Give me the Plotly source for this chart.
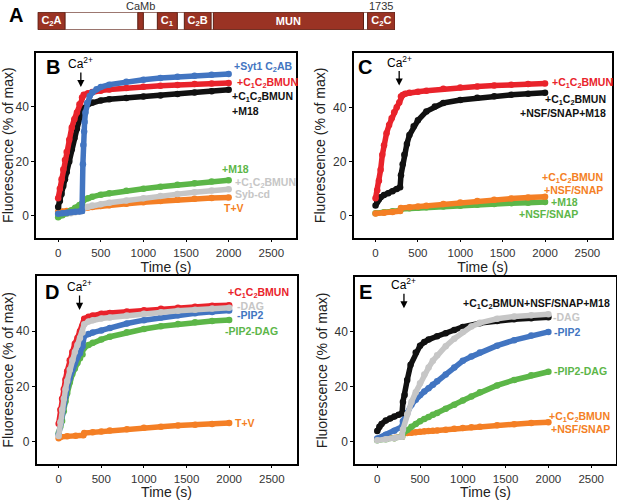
import plotly.graph_objects as go

W, H = 617, 500
FONT = "Liberation Sans, Arial, sans-serif"

BLUE = "#4275c1"
RED = "#e9232b"
BLACK = "#111111"
GREEN = "#5cb648"
GREY = "#c6c6c6"
ORANGE = "#f47f25"
BRICK = "#9a3324"

# ---- panel A: Munc13-1 domain diagram (residues) ----
dom_names = ["C<sub>2</sub>A", "", "C<sub>1</sub>", "C<sub>2</sub>B", "MUN", "C<sub>2</sub>C"]
dom_start = [1, 486, 581, 712, 853, 1602]
dom_end = [133, 513, 678, 842, 1582, 1735]
prot_len = 1735

# ---- panel B ----
tB_red = [0, 20, 40, 60, 80, 100, 130, 160, 190, 220, 250, 280, 300, 350, 400, 500, 600, 800, 1000, 1200, 1400, 1600, 1800, 2000]
B_red = [6.5, 10.0, 13.5, 17.0, 20.5, 23.5, 28.0, 32.5, 35.5, 38.0, 41.0, 43.5, 44.5, 45.0, 45.5, 46.0, 46.4, 47.0, 47.4, 47.8, 48.1, 48.4, 48.6, 48.8]
B_black = [3.3, 5.5, 8.0, 11.0, 13.5, 16.0, 20.0, 24.5, 28.5, 32.0, 35.5, 38.0, 39.5, 41.0, 41.6, 42.4, 42.8, 43.3, 43.8, 44.2, 44.8, 45.3, 45.8, 46.3]
tB_blue = [0, 50, 100, 150, 200, 250, 280, 290, 295, 305, 310, 320, 340, 370, 400, 450, 500, 600, 800, 1000, 1200, 1400, 1600, 1800, 2000]
B_blue = [0.8, 1.0, 1.2, 1.3, 1.5, 1.6, 1.8, 19.0, 26.0, 31.0, 34.5, 38.0, 41.5, 44.0, 45.3, 46.5, 47.3, 48.2, 49.3, 50.0, 50.6, 51.1, 51.5, 51.8, 52.1]
tB_low = [0, 50, 100, 150, 200, 250, 280, 300, 350, 400, 500, 600, 800, 1000, 1200, 1400, 1600, 1800, 2000]
B_green = [-0.5, 0.2, 1.0, 2.0, 3.0, 4.0, 4.6, 5.8, 6.5, 7.0, 7.8, 8.3, 9.2, 10.0, 10.7, 11.4, 12.0, 12.6, 13.1]
B_grey = [0.3, 0.5, 0.8, 1.0, 1.3, 1.6, 1.8, 3.0, 3.4, 3.8, 4.3, 4.8, 5.7, 6.5, 7.3, 8.0, 8.7, 9.3, 9.8]
B_orange = [1.5, 1.6, 1.8, 1.9, 2.0, 2.1, 2.2, 2.9, 3.1, 3.3, 3.6, 3.9, 4.5, 5.0, 5.5, 5.9, 6.3, 6.6, 6.8]

# ---- panel C ----
tC_red = [0, 20, 40, 60, 80, 100, 130, 160, 190, 220, 250, 280, 300, 320, 350, 400, 500, 600, 800, 1000, 1200, 1400, 1600, 1800, 2000]
C_red = [6.5, 9.5, 13.0, 17.0, 22.5, 26.0, 30.5, 33.5, 36.0, 38.2, 40.0, 41.8, 44.0, 44.5, 45.0, 45.4, 45.7, 46.1, 46.8, 47.3, 47.7, 48.0, 48.3, 48.6, 48.8]
tC_black = [0, 20, 40, 60, 100, 150, 200, 250, 290, 300, 320, 340, 370, 400, 450, 500, 600, 700, 800, 1000, 1200, 1400, 1600, 1800, 2000]
C_black = [3.9, 5.2, 6.2, 6.9, 7.7, 8.4, 9.1, 9.9, 10.6, 15.0, 19.0, 22.5, 26.5, 29.8, 33.0, 35.2, 38.5, 40.3, 41.6, 42.7, 43.5, 44.1, 44.6, 45.0, 45.4]
tC_low = [0, 100, 200, 290, 300, 400, 500, 600, 800, 1000, 1200, 1400, 1600, 1800, 2000]
C_orange = [0.9, 1.2, 1.5, 1.8, 2.9, 3.2, 3.5, 3.8, 4.4, 5.0, 5.5, 6.0, 6.4, 6.8, 7.1]
C_green = [1.0, 1.4, 1.7, 2.0, 2.6, 2.8, 3.0, 3.2, 3.5, 3.8, 4.1, 4.4, 4.7, 4.9, 5.1]

# ---- panel D ----
tD = [0, 20, 40, 60, 80, 100, 130, 160, 190, 220, 250, 280, 300, 350, 400, 500, 600, 800, 1000, 1200, 1400, 1600, 1800, 2000]
D_red = [6.5, 11.5, 15.5, 19.0, 22.5, 25.5, 29.5, 32.5, 35.5, 37.5, 40.0, 42.0, 44.5, 45.2, 45.7, 46.3, 46.6, 47.1, 47.6, 48.1, 48.5, 48.9, 49.2, 49.4]
D_grey = [2.0, 7.0, 11.5, 15.5, 19.0, 22.0, 26.0, 29.5, 32.5, 35.0, 37.5, 39.5, 42.5, 43.5, 44.0, 44.6, 45.0, 45.7, 46.3, 46.9, 47.4, 47.8, 48.2, 48.5]
D_blue = [2.5, 6.5, 10.0, 13.5, 16.5, 19.5, 23.0, 26.0, 28.5, 30.5, 32.0, 34.5, 38.3, 39.0, 39.5, 40.3, 41.2, 42.8, 44.0, 45.0, 45.8, 46.5, 47.0, 47.5]
D_green = [3.0, 5.5, 7.5, 11.0, 14.5, 17.5, 21.5, 24.5, 26.5, 28.5, 30.2, 31.6, 34.0, 35.0, 35.8, 37.0, 38.0, 39.6, 40.8, 41.8, 42.6, 43.2, 43.7, 44.1]
tD_low = [0, 20, 100, 200, 290, 300, 400, 500, 600, 800, 1000, 1200, 1400, 1600, 1800, 2000]
D_orange = [1.2, 1.7, 1.9, 2.1, 2.3, 3.1, 3.4, 3.7, 4.0, 4.5, 5.0, 5.4, 5.8, 6.1, 6.4, 6.7]

# ---- panel E ----
tE_black = [0, 25, 50, 100, 150, 200, 250, 290, 300, 320, 350, 390, 450, 500, 550, 600, 700, 800, 900, 1000, 1200, 1400, 1600, 1800, 2000]
E_black = [3.9, 5.5, 6.5, 7.7, 8.5, 9.2, 9.8, 10.4, 14.5, 17.0, 22.5, 28.0, 32.5, 35.0, 36.3, 37.2, 38.4, 39.5, 40.7, 41.8, 43.2, 44.0, 44.6, 45.0, 45.3]
tE = [0, 100, 200, 290, 300, 350, 400, 450, 500, 550, 600, 650, 700, 800, 900, 1000, 1100, 1200, 1400, 1600, 1800, 2000]
E_grey = [0.5, 0.9, 1.3, 1.8, 4.5, 10.0, 14.5, 18.0, 21.3, 24.5, 27.0, 29.5, 31.5, 34.8, 37.5, 40.0, 42.0, 43.3, 44.8, 45.6, 46.1, 46.4]
E_blue = [1.2, 2.5, 4.0, 5.5, 7.5, 10.5, 13.5, 15.3, 17.0, 18.3, 19.5, 20.8, 22.0, 24.5, 27.0, 29.5, 31.0, 32.5, 35.0, 37.0, 38.7, 40.0]
E_green = [0.5, 0.9, 1.3, 1.8, 3.0, 4.3, 5.5, 6.5, 7.5, 8.3, 9.0, 9.8, 10.5, 12.0, 13.5, 15.0, 16.5, 18.0, 20.5, 22.5, 24.2, 25.5]
E_orange = [0.8, 1.1, 1.4, 1.8, 3.0, 3.2, 3.3, 3.5, 3.6, 3.8, 3.9, 4.0, 4.1, 4.4, 4.7, 5.0, 5.3, 5.5, 6.0, 6.4, 6.8, 7.1]


def px(x):
    return x / W


def py(y):
    return 1 - y / H


fig = go.Figure()


def add_curve(t, v, color, ax):
    fig.add_trace(go.Scatter(
        x=t, y=v, mode="lines+markers", xaxis="x" + ax, yaxis="y" + ax,
        line=dict(color=color, width=5.5),
        marker=dict(color=color, size=6.5),
        showlegend=False, hoverinfo="skip"))


# panel B (axis 1)
add_curve(tB_low, B_orange, ORANGE, "")
add_curve(tB_low, B_grey, GREY, "")
add_curve(tB_low, B_green, GREEN, "")
add_curve(tB_red, B_black, BLACK, "")
add_curve(tB_red, B_red, RED, "")
add_curve(tB_blue, B_blue, BLUE, "")
# panel C (axis 2)
add_curve(tC_low, C_green, GREEN, "2")
add_curve(tC_low, C_orange, ORANGE, "2")
add_curve(tC_black, C_black, BLACK, "2")
add_curve(tC_red, C_red, RED, "2")
# panel D (axis 3)
add_curve(tD_low, D_orange, ORANGE, "3")
add_curve(tD, D_green, GREEN, "3")
add_curve(tD, D_blue, BLUE, "3")
add_curve(tD, D_red, RED, "3")
add_curve(tD, D_grey, GREY, "3")
# panel E (axis 4)
add_curve(tE, E_orange, ORANGE, "4")
add_curve(tE, E_green, GREEN, "4")
add_curve(tE, E_blue, BLUE, "4")
add_curve(tE_black, E_black, BLACK, "4")
add_curve(tE, E_grey, GREY, "4")

# panel A bars
fig.add_trace(go.Bar(x=[prot_len], base=[0], y=[0], orientation="h", width=1,
                     marker=dict(color="white", line=dict(color="#5a1d12", width=1)),
                     xaxis="x5", yaxis="y5", showlegend=False, hoverinfo="skip"))
fig.add_trace(go.Bar(x=[e - s for s, e in zip(dom_start, dom_end)], base=dom_start,
                     y=[0] * len(dom_start), orientation="h", width=1,
                     text=[f"<b>{n}</b>" if n else "" for n in dom_names],
                     textposition="inside", insidetextanchor="middle",
                     textangle=0, constraintext="none",
                     textfont=dict(color="white", size=11, family=FONT),
                     marker=dict(color=BRICK, line=dict(color="#5a1d12", width=1)),
                     xaxis="x5", yaxis="y5", showlegend=False, hoverinfo="skip"))

xa = dict(range=[-260, 2790], tickvals=[0, 500, 1000, 1500, 2000, 2500],
          ticks="outside", ticklen=3, tickcolor="black", showline=True, mirror=True,
          linecolor="black", linewidth=1.5, showgrid=False, zeroline=False,
          tickfont=dict(size=11.5, color="#333"), ticklabelstandoff=1,
          title=dict(text="Time (s)", font=dict(size=14, color="#222"), standoff=3))
ya = dict(range=[-8, 60], tickvals=[0, 20, 40],
          ticks="outside", ticklen=3, tickcolor="black", showline=True, mirror=True,
          linecolor="black", linewidth=1.5, showgrid=False, zeroline=False,
          tickfont=dict(size=12, color="#333"),
          title=dict(text="Fluorescence (% of max)", font=dict(size=14, color="#222"), standoff=4))

fig.update_layout(
    width=W, height=H, margin=dict(l=0, r=0, t=0, b=0),
    paper_bgcolor="white", plot_bgcolor="white",
    font=dict(family=FONT), barmode="overlay",
    xaxis=dict(xa, domain=[px(36), px(296)], anchor="y"),
    yaxis=dict(ya, domain=[py(237.7), py(52.5)], anchor="x"),
    xaxis2=dict(xa, domain=[px(353.5), px(612)], anchor="y2"),
    yaxis2=dict(ya, domain=[py(237.7), py(53)], anchor="x2"),
    xaxis3=dict(xa, domain=[px(36.5), px(296.5)], anchor="y3"),
    yaxis3=dict(ya, domain=[py(463.7), py(276)], anchor="x3"),
    xaxis4=dict(xa, domain=[px(355), px(616)], anchor="y4"),
    yaxis4=dict(ya, domain=[py(463.7), py(277)], anchor="x4"),
    xaxis5=dict(domain=[px(37.7), px(395)], range=[0, prot_len], visible=False, anchor="y5"),
    yaxis5=dict(domain=[py(29.7), py(12.3)], range=[-0.5, 0.5], visible=False, anchor="x5"),
)

ann = []


def label(x, y, text, color, anchor="left", size=10.5, bold=True):
    ann.append(dict(x=px(x), y=py(y), xref="paper", yref="paper", text=f"<b>{text}</b>" if bold else text,
                    showarrow=False, xanchor=anchor, yanchor="middle",
                    font=dict(size=size, color=color, family=FONT)))


C1C2 = "+C<sub>1</sub>C<sub>2</sub>BMUN"

# panel letters
for x, y, s in [(15.7, 15, "A"), (53, 67, "B"), (365, 67, "C"), (51.7, 291.7, "D"), (365, 291.7, "E")]:
    label(x, y, s, "black", anchor="center", size=20)

# panel A texts
ann.append(dict(x=(dom_start[1] + dom_end[1]) / 2, y=py(6), xref="x5", yref="paper", text="CaMb",
                showarrow=False, yanchor="middle", font=dict(size=11, color="#333")))
ann.append(dict(x=prot_len, y=py(6), xref="x5", yref="paper", text="1735",
                showarrow=False, xanchor="right", yanchor="middle", font=dict(size=11, color="#333")))

# Ca2+ arrows
for ax, x, y in [("", 266, 47.3), ("2", 279, 48.0), ("3", 245, 47.7), ("4", 312, 48.6)]:
    ann.append(dict(x=x, y=y, xref="x" + ax, yref="y" + ax, text="Ca<sup>2+</sup>",
                    showarrow=True, ax=0, ay=-24, arrowhead=2, arrowsize=1.1, arrowwidth=1.3,
                    arrowcolor="black", font=dict(size=12, color="black")))

# panel B labels
label(231.7, 66.7, "+Syt1 C<sub>2</sub>AB", BLUE)
label(235, 82.7, C1C2, RED)
label(230, 97.3, C1C2, BLACK)
label(230, 110.7, "+M18", BLACK)
label(220, 169.3, "+M18", GREEN)
label(233.3, 182.7, C1C2, GREY)
label(233.3, 194.3, "Syb-cd", GREY)
label(221.7, 208.3, "T+V", ORANGE)

# panel C labels
label(550, 82.7, C1C2, RED)
label(607.7, 100, C1C2, BLACK, anchor="right")
label(607.7, 112.7, "+NSF/SNAP+M18", BLACK, anchor="right")
label(605, 177.7, C1C2, ORANGE, anchor="right")
label(605, 190, "+NSF/SNAP", ORANGE, anchor="right")
label(580, 202.3, "+M18", GREEN, anchor="right")
label(580, 214, "+NSF/SNAP", GREEN, anchor="right")

# panel D labels
label(226, 292.7, C1C2, RED)
label(235, 306, "-DAG", GREY)
label(235, 315, "-PIP2", BLUE)
label(222.7, 330.7, "-PIP2-DAG", GREEN)
label(233.3, 423.3, "T+V", ORANGE)

# panel E labels
label(611.7, 304, "+C<sub>1</sub>C<sub>2</sub>BMUN+NSF/SNAP+M18", BLACK, anchor="right")
label(550.7, 317.3, "-DAG", GREY)
label(551.7, 331.7, "-PIP2", BLUE)
label(551.7, 370.7, "-PIP2-DAG", GREEN)
label(612, 416.7, C1C2, ORANGE, anchor="right")
label(612, 429.3, "+NSF/SNAP", ORANGE, anchor="right")

fig.update_layout(annotations=ann)
# the page body has a default 8px margin; drop it so the figure sits at the window corner
fig.write_html("out.html", config={"displayModeBar": False},
               post_script="document.body.style.margin='0px';")
